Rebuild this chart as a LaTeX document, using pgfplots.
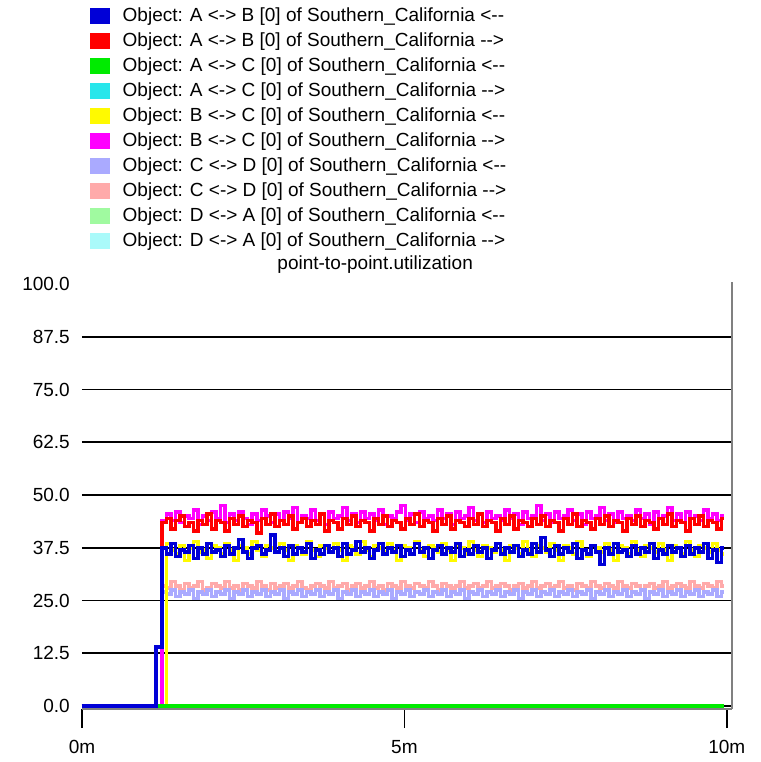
\documentclass[border=0pt]{standalone}
\usepackage{fontspec}
\setmainfont{Liberation Sans}
\usepackage{pgfplots}
\usepackage{pgfplotstable}
\pgfplotsset{compat=1.18}
\definecolor{cB}{RGB}{0,0,215}
\definecolor{cR}{RGB}{255,0,0}
\definecolor{cG}{RGB}{0,235,0}
\definecolor{cC}{RGB}{40,230,235}
\definecolor{cY}{RGB}{255,250,0}
\definecolor{cM}{RGB}{255,0,255}
\definecolor{cL}{RGB}{170,170,255}
\definecolor{cP}{RGB}{255,170,170}
\definecolor{cLG}{RGB}{160,250,160}
\definecolor{cLC}{RGB}{170,250,250}
\pgfplotstableread{
t B R Y M L P
0.00 0 0 0 0 0 0
1.15 14 14 0 0 0 0
1.24 37.5 43.5 0 44.0 27.0 28.5
1.31 36.0 44.5 38.5 45.5 26.5 28.0
1.38 38.5 42.0 37.0 44.0 27.5 29.5
1.45 35.5 44.0 36.0 46.0 26.0 28.5
1.52 37.0 45.0 38.0 43.5 27.0 27.5
1.59 36.5 42.5 34.5 45.0 26.5 29.0
1.66 38.0 43.5 37.5 44.5 27.5 28.0
1.73 35.0 41.5 39.0 46.5 25.5 28.5
1.80 37.5 44.0 36.5 43.0 27.0 29.5
1.87 36.0 43.0 37.0 45.0 26.5 27.5
1.94 38.5 45.5 35.0 44.0 27.5 28.0
2.01 36.5 42.0 38.0 46.0 26.0 29.0
2.08 37.0 44.0 37.5 44.5 27.0 28.5
2.15 35.5 43.5 36.0 47.5 26.5 28.0
2.22 38.0 41.5 38.5 43.5 27.5 29.5
2.29 36.0 44.5 37.0 45.5 25.5 28.0
2.36 37.5 43.0 34.5 44.0 27.0 28.5
2.43 39.5 45.0 38.0 46.0 26.5 27.5
2.50 36.5 42.5 37.5 44.5 27.5 29.0
2.57 35.0 44.0 36.0 43.0 26.0 28.5
2.64 37.5 43.5 39.0 45.5 27.0 28.0
2.71 38.0 41.0 37.0 44.0 26.5 29.5
2.78 36.0 44.5 35.5 46.5 27.5 28.5
2.85 37.0 43.0 38.0 45.0 26.0 27.5
2.92 40.5 45.5 37.5 43.5 27.0 29.0
2.99 36.5 42.5 36.5 45.5 26.5 28.0
3.06 37.5 44.0 38.5 44.0 27.5 28.5
3.13 35.5 43.0 37.0 46.0 25.5 29.0
3.20 38.0 45.0 34.5 44.5 27.0 28.0
3.27 36.0 42.0 38.0 47.0 26.5 28.5
3.34 37.5 43.5 37.5 43.5 27.5 29.5
3.41 36.5 44.5 36.0 45.0 26.0 28.0
3.48 38.5 42.5 39.0 44.5 27.0 27.5
3.55 35.0 44.0 37.0 46.5 26.5 28.5
3.62 37.0 43.0 35.5 44.0 27.5 29.0
3.69 36.0 45.5 38.0 45.5 26.0 28.5
3.76 38.0 41.5 37.5 43.0 27.0 28.0
3.83 36.5 44.0 36.5 46.0 26.5 29.5
3.90 37.5 43.5 38.5 44.5 27.5 28.0
3.97 35.5 42.0 37.0 45.0 25.5 28.5
4.04 38.5 44.5 34.5 47.0 27.0 29.0
4.11 36.0 43.0 38.0 44.0 26.5 27.5
4.18 37.0 45.0 37.5 45.5 27.5 28.5
4.25 39.0 42.5 36.0 43.5 26.0 29.0
4.32 36.5 44.0 39.0 46.0 27.0 28.0
4.39 37.5 43.5 37.0 44.5 26.5 28.5
4.46 35.0 41.5 35.5 45.5 27.5 29.5
4.53 37.0 44.5 38.0 44.0 26.0 28.0
4.60 38.5 43.0 37.5 46.5 27.0 28.5
4.67 36.0 45.0 36.5 43.0 26.5 27.5
4.74 37.5 42.5 38.5 45.0 27.5 29.0
4.81 36.5 44.0 37.0 44.5 25.5 28.5
4.88 38.0 43.5 34.5 46.0 27.0 28.0
4.95 35.5 42.0 38.0 47.5 26.5 29.5
5.02 37.0 44.5 37.5 44.0 27.5 28.5
5.09 36.0 43.0 36.0 45.5 26.0 28.0
5.16 38.5 45.5 39.0 43.5 27.0 29.0
5.23 36.5 42.5 37.0 46.0 26.5 28.5
5.30 37.5 44.0 35.5 44.5 27.5 28.0
5.37 35.0 43.5 38.0 45.0 26.0 29.5
5.44 37.0 41.5 37.5 44.0 27.0 28.5
5.51 38.0 44.5 36.5 46.5 26.5 27.5
5.58 36.0 43.0 38.5 44.5 27.5 29.0
5.65 37.5 45.0 37.0 45.5 26.0 28.5
5.72 36.5 42.0 34.5 43.0 27.0 28.0
5.79 38.5 44.0 38.0 46.0 26.5 28.5
5.86 35.5 43.5 37.5 44.5 27.5 29.5
5.93 37.0 42.5 36.0 45.0 25.5 28.0
6.00 36.0 44.5 39.0 47.0 27.0 28.5
6.07 38.0 43.0 37.0 44.0 26.5 29.0
6.14 36.5 45.5 35.5 45.5 27.5 28.0
6.21 37.5 42.5 38.0 43.5 26.0 28.5
6.28 35.0 44.0 37.5 46.0 27.0 29.5
6.35 37.0 43.5 36.5 44.5 26.5 28.0
6.42 38.5 41.5 38.5 45.0 27.5 28.5
6.49 36.0 44.5 37.0 44.0 26.0 29.0
6.56 37.5 43.0 34.5 46.5 27.0 28.5
6.63 36.5 45.0 38.0 44.5 26.5 27.5
6.70 38.0 42.0 37.5 45.5 27.5 28.5
6.77 35.5 44.0 36.0 43.0 25.5 29.0
6.84 37.0 43.5 39.0 46.0 27.0 28.0
6.91 36.0 42.5 37.0 44.5 26.5 28.5
6.98 38.5 44.5 35.5 45.0 27.5 29.5
7.05 36.5 43.0 38.0 47.5 26.0 28.0
7.12 40.0 45.0 37.5 44.0 27.0 28.5
7.19 37.0 42.5 36.5 45.5 26.5 29.0
7.26 35.5 44.0 38.5 43.5 27.5 28.0
7.33 38.0 43.5 37.0 46.0 26.0 28.5
7.40 36.0 41.5 34.5 44.5 27.0 29.5
7.47 37.5 44.5 38.0 45.0 26.5 28.0
7.54 36.5 43.0 37.5 46.5 27.5 28.5
7.61 38.5 45.5 36.0 44.0 26.0 27.5
7.68 35.0 42.5 39.0 45.5 27.0 29.0
7.75 37.0 44.0 37.0 43.0 26.5 28.5
7.82 36.0 43.5 35.5 46.0 27.5 28.0
7.89 38.0 42.0 38.0 44.5 25.5 29.5
7.96 36.5 44.5 37.5 45.0 27.0 28.5
8.03 33.5 43.0 36.5 47.0 26.5 28.0
8.10 37.5 45.0 38.5 44.0 27.5 29.0
8.17 36.0 42.5 37.0 45.5 26.0 28.5
8.24 38.5 44.0 34.5 43.5 27.0 28.0
8.31 36.5 43.5 38.0 46.0 26.5 29.5
8.38 37.0 41.5 37.5 44.5 27.5 28.5
8.45 35.5 44.5 36.0 45.0 26.0 28.0
8.52 38.0 43.0 39.0 44.0 27.0 29.0
8.59 36.0 45.0 37.0 46.5 26.5 28.5
8.66 37.5 42.5 35.5 44.5 27.5 27.5
8.73 36.5 44.0 38.0 45.5 25.5 28.5
8.80 38.5 43.5 37.5 43.0 27.0 29.0
8.87 35.0 42.0 36.5 46.0 26.5 28.0
8.94 37.0 44.5 38.5 44.5 27.5 28.5
9.01 36.0 43.0 37.0 45.0 26.0 29.5
9.08 38.0 45.5 34.5 47.0 27.0 28.0
9.15 36.5 42.5 38.0 44.0 26.5 28.5
9.22 37.5 44.0 37.5 45.5 27.5 29.0
9.29 35.5 43.5 36.0 43.5 26.0 28.5
9.36 38.0 41.5 39.0 46.0 27.0 28.0
9.43 36.0 44.5 37.0 44.5 26.5 29.5
9.50 37.5 43.0 35.5 45.0 27.5 28.5
9.57 36.5 45.0 38.0 44.0 26.0 28.0
9.64 38.5 42.5 37.5 46.5 27.0 29.0
9.71 35.0 44.0 36.5 44.5 26.5 28.5
9.78 37.0 43.5 38.5 45.5 27.5 28.0
9.85 34.0 42.0 37.0 44.0 26.0 29.5
9.92 37.5 44.5 36.0 45.0 27.0 28.5
9.96 37.5 44.5 36.0 45.0 27.0 28.5
}\util
\begin{document}
\begin{tikzpicture}
\begin{axis}[
  name=ax,
  scale only axis,
  width=650pt, height=427pt,
  xmin=0, xmax=10.08,
  ymin=-0.7, ymax=100.5,
  font=\fontsize{19pt}{23pt}\selectfont,
  axis x line*=bottom,
  axis y line*=left,
  x axis line style={draw=black!50, line width=1.6pt},
  y axis line style={draw=none},
  tick align=outside,
  major tick length=19pt,
  xtick={0,5,10},
  xticklabels={0m,5m,10m},
  xtick style={black, line width=1.6pt},
  xticklabel style={inner sep=0pt, anchor=north, yshift=-12pt},
  ytick={0,12.5,...,87.5},
  extra y ticks={100},
  extra y tick style={grid=none},
  ytick style={draw=none},
  yticklabel style={/pgf/number format/fixed, /pgf/number format/fixed zerofill, /pgf/number format/precision=1, /pgf/number format/assume math mode=true, inner sep=0pt, anchor=east, xshift=7pt},
  ymajorgrids,
  major grid style={black, line width=1.8pt},
  title={point-to-point.utilization},
  title style={at={(axis description cs:0.451,1.026)}, anchor=center, inner sep=0pt, yshift=0pt},
  reverse legend,
  legend cell align=left,
  legend style={draw=none, fill=none, inner sep=0pt, at={(axis description cs:0,1)}, anchor=south west,
    xshift=8pt, yshift=27pt, column sep=0pt, row sep=0pt,
    nodes={inner sep=0pt, text height=16.5pt, text depth=8.5pt, anchor=base west},
    /tikz/every odd column/.append style={column sep=13pt}},
  legend image code/.code={\fill[#1] (0pt,-1pt) rectangle (16pt,12pt);},
  every axis plot/.append style={line width=3.5pt, const plot},
]
\addplot[cLC] coordinates {(0,0) (9.96,0)}; \addlegendentry{Object: D <-> A [0] of Southern\_California -{}->}
\addplot[cLG] coordinates {(0,0) (9.96,0)}; \addlegendentry{Object: D <-> A [0] of Southern\_California <-{}-}
\addplot[cP] table[x=t, y=P] {\util}; \addlegendentry{Object: C <-> D [0] of Southern\_California -{}->}
\addplot[cL] table[x=t, y=L] {\util}; \addlegendentry{Object: C <-> D [0] of Southern\_California <-{}-}
\addplot[cM] table[x=t, y=M] {\util}; \addlegendentry{Object: B <-> C [0] of Southern\_California -{}->}
\addplot[cY] table[x=t, y=Y] {\util}; \addlegendentry{Object: B <-> C [0] of Southern\_California <-{}-}
\addplot[cC] coordinates {(0,0) (9.96,0)}; \addlegendentry{Object: A <-> C [0] of Southern\_California -{}->}
\addplot[cG] coordinates {(0,0) (9.96,0)}; \addlegendentry{Object: A <-> C [0] of Southern\_California <-{}-}
\addplot[cR] table[x=t, y=R] {\util}; \addlegendentry{Object: A <-> B [0] of Southern\_California -{}->}
\addplot[cB] table[x=t, y=B] {\util}; \addlegendentry{Object: A <-> B [0] of Southern\_California <-{}-}
\end{axis}
\draw[black!50, line width=1.6pt] (ax.south east) -- (ax.north east);
\pgfresetboundingbox
\path (ax.south west) ++(-82pt,-53pt) rectangle ++(760pt,762pt);
\end{tikzpicture}
\end{document}
